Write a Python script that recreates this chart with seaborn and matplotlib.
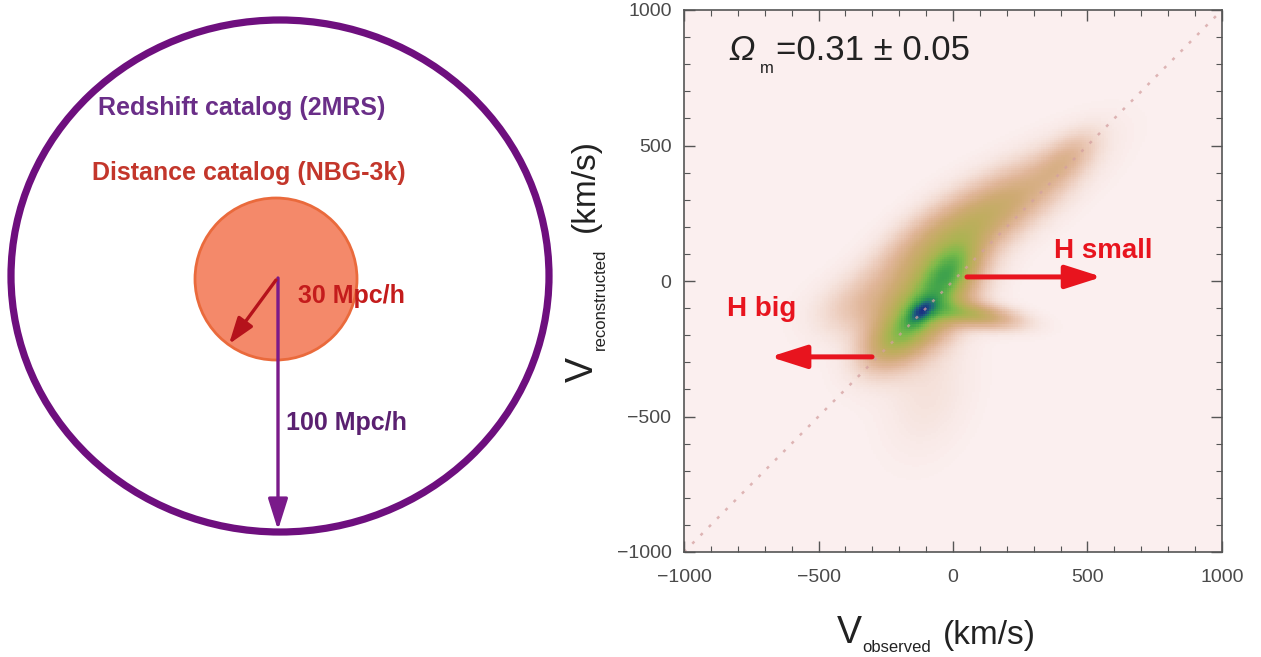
import numpy as np
import pandas as pd
import matplotlib
matplotlib.use("Agg")
import matplotlib.pyplot as plt
import seaborn as sns
from matplotlib.colors import LinearSegmentedColormap
from matplotlib.patches import Ellipse, Circle, FancyArrowPatch
from matplotlib.ticker import MultipleLocator

# ---- density components of V_reconstructed vs V_observed (km/s) ----
comp_cx = [-120, -100, -10, 110, 420, 80, -330, -220, -90, -120]
comp_cy = [-115, -95, 40, 230, 450, -125, -90, -220, -420, 130]
comp_sx = [45, 150, 85, 240, 90, 110, 120, 90, 150, 180]
comp_sy = [24, 80, 50, 75, 45, 30, 70, 55, 100, 70]
comp_angle = [40, 45, 45, 33, 40, -8, 15, 35, 70, 40]
comp_amp = [0.45, 0.78, 0.45, 0.48, 0.18, 0.5, 0.15, 0.32, 0.06, 0.15]

axis_ticks = [-1000, -500, 0, 500, 1000]
diag = [-1000, 1000]

W, H = 1261, 657
fig = plt.figure(figsize=(W / 100, H / 100), dpi=100)
sns.set_theme(style="ticks")
plt.rcParams["font.family"] = ["Liberation Sans", "DejaVu Sans"]
fig.patch.set_facecolor("white")


def fx(x):
    return x / W


def fy(y):
    return 1 - y / H


# ---------------- left: survey schematic ----------------
ax0 = fig.add_axes([0, 0, 580 / W, 1])
ax0.set_xlim(0, 580)
ax0.set_ylim(H, 0)
ax0.axis("off")

ax0.add_patch(Ellipse((280, 276), 538, 512, fill=False, ec="#6e0f7e", lw=5.2))
ax0.add_patch(Circle((276, 279), 81, fc="#f4896a", ec="#ea6a3c", lw=2))

ax0.add_patch(FancyArrowPatch((278, 278), (278, 530),
                              arrowstyle="-|>,head_length=1.9,head_width=0.6",
                              mutation_scale=10, color="#7a1a8a", lw=2.4,
                              shrinkA=0, shrinkB=0))
ax0.add_patch(FancyArrowPatch((276, 280), (229, 344),
                              arrowstyle="-|>,head_length=1.6,head_width=0.55",
                              mutation_scale=10, color="#b5121b", lw=2.4,
                              shrinkA=0, shrinkB=0))

ax0.text(98, 108, "Redshift catalog (2MRS)", color="#6a2e88", fontsize=18,
         fontweight="bold", ha="left", va="center")
ax0.text(92, 173, "Distance catalog (NBG-3k)", color="#c3362b", fontsize=18,
         fontweight="bold", ha="left", va="center")
ax0.text(298, 296, "30 Mpc/h", color="#c41c1c", fontsize=18,
         fontweight="bold", ha="left", va="center")
ax0.text(286, 423, "100 Mpc/h", color="#5a2070", fontsize=18,
         fontweight="bold", ha="left", va="center")

# ---------------- right: velocity comparison ----------------
ax = fig.add_axes([fx(684), fy(552), (1222 - 684) / W, (552 - 10) / H])
ax.set_facecolor("#fbefef")

edges = np.linspace(-1000, 1000, 251)
centers = 0.5 * (edges[:-1] + edges[1:])
gx, gy = np.meshgrid(centers, centers)
dens = np.zeros_like(gx)
for cx, cy, sx, sy, ang, amp in zip(comp_cx, comp_cy, comp_sx, comp_sy,
                                    comp_angle, comp_amp):
    t = np.deg2rad(ang)
    dx, dy = gx - cx, gy - cy
    u = dx * np.cos(t) + dy * np.sin(t)
    v = -dx * np.sin(t) + dy * np.cos(t)
    dens += amp * np.exp(-0.5 * ((u / sx) ** 2 + (v / sy) ** 2))
dens /= dens.max()

grid = pd.DataFrame({"v_obs": gx.ravel(), "v_rec": gy.ravel(),
                     "weight": dens.ravel()})

cmap = LinearSegmentedColormap.from_list("vel", [
    (0.00, "#fbefef"), (0.04, "#f5e2dc"), (0.10, "#ecccbc"),
    (0.18, "#e0b598"), (0.28, "#cfaa74"), (0.38, "#bfad5e"),
    (0.48, "#a8b450"), (0.58, "#7cba4a"), (0.70, "#48a84a"),
    (0.80, "#2a9452"), (0.89, "#1f6a7a"), (1.00, "#1a2f84")])

sns.histplot(data=grid, x="v_obs", y="v_rec", weights="weight",
             bins=[edges, edges], cmap=cmap, vmin=0, vmax=1, thresh=None,
             ax=ax)

sns.lineplot(x=diag, y=diag, ax=ax, color="#d4a0a0", lw=1.8, alpha=0.75,
             linestyle=(0, (1.2, 3.5)))

ax.set_axisbelow(False)
ax.set_xlim(-1000, 1000)
ax.set_ylim(-1000, 1000)
ax.set_xticks(axis_ticks)
ax.set_yticks(axis_ticks)
ax.xaxis.set_minor_locator(MultipleLocator(100))
ax.yaxis.set_minor_locator(MultipleLocator(100))
ax.tick_params(which="both", direction="in", top=True, right=True,
               color="#555555")
ax.tick_params(which="major", length=8, width=1.0, labelsize=14,
               labelcolor="#4a4a4a")
ax.tick_params(axis="x", which="major", pad=12)
ax.tick_params(axis="y", which="major", pad=9)
ax.tick_params(which="minor", length=4.5, width=0.8)
for s in ax.spines.values():
    s.set_color("#555555")
    s.set_linewidth(1.2)
ax.set_xlabel("")
ax.set_ylabel("")

# arrows for the Hubble constant direction
ax.add_patch(FancyArrowPatch((52, 15), (554, 15),
                             arrowstyle="-|>,head_length=2.2,head_width=0.7",
                             mutation_scale=10, color="#e8141e", lw=3.6,
                             shrinkA=0, shrinkB=0, zorder=5))
ax.add_patch(FancyArrowPatch((-301, -280), (-680, -280),
                             arrowstyle="-|>,head_length=2.2,head_width=0.7",
                             mutation_scale=10, color="#e8141e", lw=3.6,
                             shrinkA=0, shrinkB=0, zorder=5))
ax.text(558, 111, "H small", color="#e8141e", fontsize=20, fontweight="bold",
        ha="center", va="center")
ax.text(-710, -102, "H big", color="#e8141e", fontsize=20, fontweight="bold",
        ha="center", va="center")

# Omega_m annotation
fig.text(fx(728), fy(60), "Ω", fontsize=25, style="italic", color="#222222",
         ha="left", va="baseline")
fig.text(fx(760), fy(73), "m", fontsize=12, color="#222222",
         ha="left", va="baseline")
fig.text(fx(776), fy(60), "=0.31 ± 0.05", fontsize=25, color="#222222",
         ha="left", va="baseline")

# axis labels with small subscripts
lab = "#222222"
fig.text(fx(837), fy(643), "V", fontsize=27, color=lab, ha="left", va="baseline")
fig.text(fx(862), fy(652), "observed", fontsize=12, color=lab,
         ha="left", va="baseline")
fig.text(fx(943), fy(644), "(km/s)", fontsize=24, color=lab,
         ha="left", va="baseline")

fig.text(fx(593), fy(382), "V", fontsize=27, color=lab, rotation=90,
         rotation_mode="anchor", ha="left", va="baseline")
fig.text(fx(605), fy(350), "reconstructed", fontsize=12, color=lab,
         rotation=90, rotation_mode="anchor", ha="left", va="baseline")
fig.text(fx(594), fy(232), "(km/s)", fontsize=24, color=lab, rotation=90,
         rotation_mode="anchor", ha="left", va="baseline")

fig.savefig("out.png", dpi=100, facecolor="white")
